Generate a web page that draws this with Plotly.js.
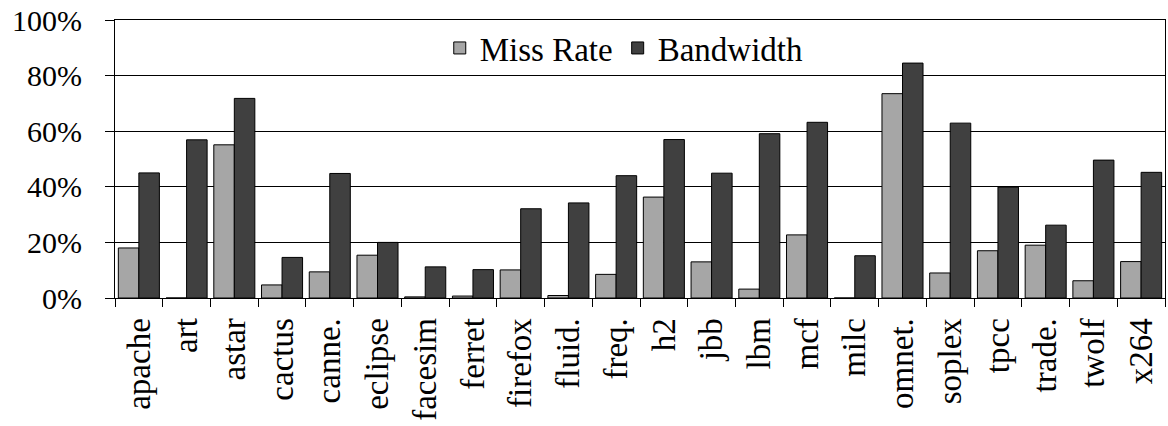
<!DOCTYPE html>
<html><head><meta charset="utf-8">
<script src="https://cdn.plot.ly/plotly-3.0.1.min.js"></script>
<style>html,body{margin:0;padding:0;background:#fff}#c{width:1168px;height:426px}</style>
</head><body><div id="c"></div>
<script>
const categories = ["apache","art","astar","cactus","canne.","eclipse","facesim","ferret","firefox","fluid.","freq.","h2","jbb","lbm","mcf","milc","omnet.","soplex","tpcc","trade.","twolf","x264"];
const missRate = [18.0,0,55.1,4.7,9.4,15.4,0.4,0.7,10.1,0.9,8.5,36.3,13.0,3.2,22.7,0,73.5,9.0,17.0,19.0,6.2,13.1];
const bandwidth = [45.0,56.9,71.8,14.6,44.8,20.0,11.2,10.2,32.1,34.2,44.0,57.0,44.9,59.1,63.2,15.2,84.5,62.9,39.9,26.2,49.6,45.2];
const yTicks = [0,20,40,60,80,100];
const yTickText = yTicks.map(v => v + "%");

const fam = "Liberation Serif, Times New Roman, Times, serif";
const font = {family: fam, size: 33, color: "#000"};
const yFont = {family: fam, size: 30, color: "#000"};
const data = [
  {type: "bar", name: "Miss Rate", x: categories, y: missRate,
   marker: {color: "#a6a6a6", line: {color: "#000", width: 1}}},
  {type: "bar", name: "Bandwidth", x: categories, y: bandwidth,
   marker: {color: "#404040", line: {color: "#000", width: 1}}}
];
const layout = {
  width: 1168, height: 426,
  margin: {l: 115, r: 3, t: 20, b: 128, pad: 0},
  paper_bgcolor: "#fff", plot_bgcolor: "#fff",
  font: font,
  barmode: "group", bargap: 0.14, bargroupgap: 0,
  showlegend: true,
  legend: {orientation: "h", x: 0.485, xanchor: "center", y: 1.0, yanchor: "top",
           font: font, bgcolor: "rgba(0,0,0,0)", itemwidth: 30, tracegroupgap: 0},
  xaxis: {type: "category", tickangle: -90, tickson: "boundaries", ticks: "outside",
          ticklen: 8, tickcolor: "#000", tickwidth: 1, showline: true, linecolor: "#000",
          linewidth: 1, mirror: true, showgrid: false, tickfont: font, fixedrange: true,
          ticklabelstandoff: 6},
  yaxis: {range: [0, 100], tickvals: yTicks, ticktext: yTickText, ticks: "outside",
          ticklen: 9, tickcolor: "#000", showgrid: true, gridcolor: "#000", gridwidth: 1,
          showline: true, linecolor: "#000", linewidth: 1, mirror: true, zeroline: false,
          tickfont: yFont, fixedrange: true, ticklabelstandoff: 17}
};
Plotly.newPlot("c", data, layout, {staticPlot: true, displayModeBar: false});
</script>
</body></html>
